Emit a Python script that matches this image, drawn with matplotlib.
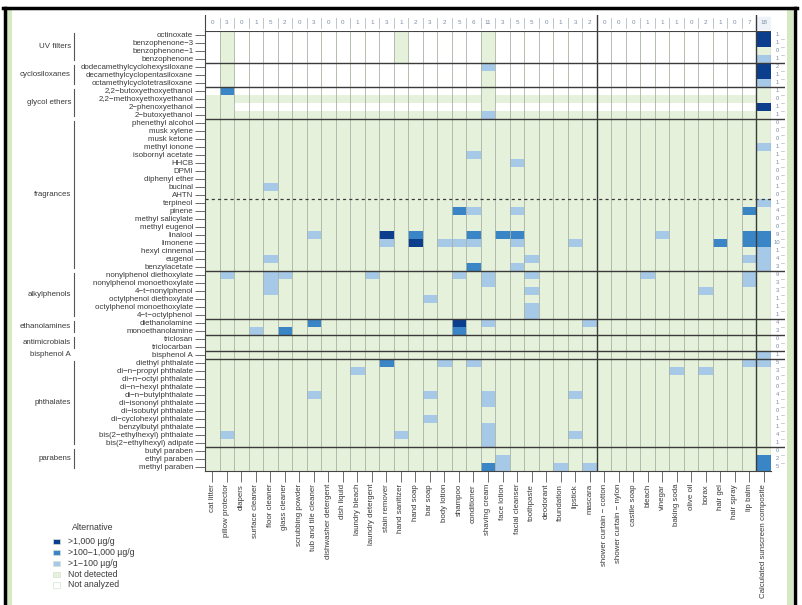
import numpy as np
import matplotlib.pyplot as plt
import matplotlib.transforms as mtransforms
from matplotlib.colors import ListedColormap
from matplotlib.patches import Rectangle

plt.rcParams['font.family'] = ['Liberation Sans', 'DejaVu Sans']

products = ["cat litter", "pillow protector", "diapers", "surface cleaner", "floor cleaner",
            "glass cleaner", "scrubbing powder", "tub and tile cleaner", "dishwasher detergent",
            "dish liquid", "laundry bleach", "laundry detergent", "stain remover", "hand sanitizer",
            "hand soap", "bar soap", "body lotion", "shampoo", "conditioner", "shaving cream",
            "face lotion", "facial cleanser", "toothpaste", "deodorant", "foundation", "lipstick",
            "mascara", "shower curtain \u2212 cotton", "shower curtain \u2212 nylon", "castile soap",
            "bleach", "vinegar", "baking soda", "olive oil", "borax", "hair gel", "hair spray",
            "lip balm", "Calculated sunscreen composite"]

chemicals = ["octinoxate", "benzophenone\u22123", "benzophenone\u22121", "benzophenone",
             "dodecamethylcyclohexysiloxane", "decamethylcyclopentasiloxane",
             "octamethylcyclotetrasiloxane",
             "2,2\u2212butoxyethoxyethanol", "2,2\u2212methoxyethoxyethanol",
             "2\u2212phenoxyethanol", "2\u2212butoxyethanol",
             "phenethyl alcohol", "musk xylene", "musk ketone", "methyl ionone",
             "isobornyl acetate", "HHCB", "DPMI", "diphenyl ether", "bucinal", "AHTN",
             "terpineol", "pinene", "methyl salicylate", "methyl eugenol", "linalool",
             "limonene", "hexyl cinnemal", "eugenol", "benzylacetate",
             "nonylphenol diethoxylate", "nonylphenol monoethoxylate", "4\u2212t\u2212nonylphenol",
             "octylphenol diethoxylate", "octylphenol monoethoxylate", "4\u2212t\u2212octylphenol",
             "diethanolamine", "monoethanolamine", "triclosan", "triclocarban", "bisphenol A",
             "diethyl phthalate", "di\u2212n\u2212propyl phthalate", "di\u2212n\u2212octyl phthalate",
             "di\u2212n\u2212hexyl phthalate", "di\u2212n\u2212butylphthalate",
             "di\u2212isononyl phthalate", "di\u2212isobutyl phthalate",
             "di\u2212cyclohexyl phthalate", "benzylbutyl phthalate",
             "bis(2\u2212ethylhexyl) phthalate", "bis(2\u2212ethylhexyl) adipate",
             "butyl paraben", "ethyl paraben", "methyl paraben"]

groups = ["UV filters", "cyclosiloxanes", "glycol ethers", "fragrances", "alkylphenols",
          "ethanolamines", "antimicrobials", "bisphenol A", "phthalates", "parabens"]
group_sizes = [4, 3, 4, 19, 6, 2, 2, 1, 11, 3]

# '.' not analyzed, '-' not detected, L >1-100, M >100-1,000, H >1,000 ug/g
# blocks: products 0-9 | 10-19 | 20-29 | 30-38
levels = [
    ".-........ ...-.....- .......... ........H",   # octinoxate
    ".-........ ...-.....- .......... ........H",
    ".-........ ...-.....- .......... ........-",
    ".-........ ...-.....- .......... ........L",
    ".-........ .........L .......... ........H",   # cyclosiloxanes
    ".-........ .........- .......... ........H",
    ".-........ .........- .......... ........L",
    ".M........ .........- .......... ........-",   # glycol ethers
    "---------- ---------- ---------- ---------",
    "--........ .........- .......... ........H",
    "---------- ---------L ---------- ---------",
    "---------- ---------- ---------- ---------",   # phenethyl alcohol
    "---------- ---------- ---------- ---------",
    "---------- ---------- ---------- ---------",
    "---------- ---------- ---------- --------L",
    "---------- --------L- ---------- ---------",
    "---------- ---------- -L-------- ---------",
    "---------- ---------- ---------- ---------",
    "---------- ---------- ---------- ---------",
    "----L----- ---------- ---------- ---------",
    "---------- ---------- ---------- ---------",   # AHTN
    "---------- ---------- ---------- --------L",   # terpineol
    "---------- -------ML- -L-------- -------M-",
    "---------- ---------- ---------- ---------",
    "---------- ---------- ---------- ---------",
    "-------L-- --H-M---M- MM-------- -L-----MM",   # linalool
    "---------- --L-H-LLL- -L---L---- -----M-MM",   # limonene
    "---------- ---------- ---------- --------L",
    "----L----- ---------- --L------- -------LL",
    "---------- --------M- -L-------- --------L",
    "-L--LL---- -L-----L-L --L------- L------L-",   # nonylphenol diethoxylate
    "----L----- ---------L ---------- -------L-",
    "----L----- ---------- --L------- ----L----",
    "---------- -----L---- ---------- ---------",
    "---------- ---------- --L------- ---------",
    "---------- ---------- --L------- ---------",
    "-------M-- -------H-L ------L--- ---------",   # diethanolamine
    "---L-M---- -------M-- ---------- ---------",
    "---------- ---------- ---------- ---------",   # triclosan
    "---------- ---------- ---------- ---------",
    "---------- ---------- ---------- --------L",   # bisphenol A
    "---------- --M---L-L- ---------- -------LL",   # diethyl phthalate
    "---------- L--------- ---------- --L-L----",
    "---------- ---------- ---------- ---------",
    "---------- ---------- ---------- ---------",
    "-------L-- -----L---L -----L---- ---------",
    "---------- ---------L ---------- ---------",
    "---------- ---------- ---------- ---------",
    "---------- -----L---- ---------- ---------",
    "---------- ---------L ---------- ---------",
    "-L-------- ---L-----L -----L---- ---------",
    "---------- ---------L ---------- ---------",
    "---------- ---------- ---------- ---------",   # butyl paraben
    "---------- ---------- L--------- --------M",
    "---------- ---------M L---L-L--- --------M",
]

legend_labels = [">1,000 \u00b5g/g", ">100\u22121,000 \u00b5g/g", ">1\u2212100 \u00b5g/g",
                 "Not detected", "Not analyzed"]

code = {'.': 0, '-': 1, 'L': 2, 'M': 3, 'H': 4}
grid = np.array([[code[c] for c in row.replace(" ", "")] for row in levels])
n_rows, n_cols = grid.shape
detected = grid >= 2
col_counts = detected.sum(axis=0)
row_counts = detected.sum(axis=1)

colors = ['#ffffff', '#e6f1dc', '#a5c9e6', '#3a85c6', '#0c3e8e']
cmap = ListedColormap(colors)

W, H = 803, 605
fig = plt.figure(figsize=(W / 100, H / 100), dpi=100)


def fx(px):
    return px / W


def fy(py):
    return 1 - py / H


gx0, gx1, gy0, gy1 = 205, 771, 30.7, 470.7
ax = fig.add_axes([fx(gx0), fy(gy1), (gx1 - gx0) / W, (gy1 - gy0) / H])
ax.pcolormesh(np.arange(n_cols + 1), np.arange(n_rows + 1), grid, cmap=cmap,
              vmin=-0.5, vmax=4.5)
ax.set_xlim(0, n_cols)
ax.set_ylim(n_rows, 0)

text_c = '#3a3a3a'
ax.set_yticks(np.arange(n_rows) + 0.5, chemicals, fontsize=5.7, color=text_c)
ax.set_xticks(np.arange(n_cols) + 0.5, products, rotation=90, fontsize=5.7, color=text_c)
ax.tick_params(axis='y', length=7, width=0.6, color='#555555', pad=1.5)
ax.tick_params(axis='x', length=8, width=0.6, color='#555555', pad=1.5)
for s in ax.spines.values():
    s.set_color('#444444')
    s.set_linewidth(0.8)

# column and group separators
thick_cols = [27, 38]
for k in range(1, n_cols):
    if k in thick_cols:
        ax.axvline(k, color='#3a3a3a', lw=1.0)
    else:
        ax.axvline(k, color='#a9b2a3', lw=0.6)
bounds = np.cumsum(group_sizes)[:-1]
for b in bounds:
    ax.axhline(b, color='#3a3a3a', lw=1.0)
ax.axhline(21, color='#3a3a3a', lw=0.9, ls=(0, (2.5, 2.5)))

# header with product counts
hx = fig.add_axes([fx(gx0), fy(gy0), (gx1 - gx0) / W, (gy0 - 15) / H])
hx.set_xlim(0, n_cols)
hx.set_ylim(0, 1)
hx.set_xticks([])
hx.set_yticks([])
for name, s in hx.spines.items():
    s.set_visible(name == 'left')
    s.set_color('#444444')
    s.set_linewidth(0.8)
for k in range(1, n_cols):
    if k in thick_cols:
        hx.axvline(k, color='#3a3a3a', lw=1.0)
    else:
        hx.axvline(k, ymin=0.2, ymax=0.8, color='#b5bcc5', lw=0.6)
for i, c in enumerate(col_counts):
    hx.text(i + 0.5, 0.5, str(c), ha='center', va='center', fontsize=4.5, color='#7d8ca3')
hx.axvspan(38, 39, ymin=0.1, ymax=0.9, color='#eef3fa', zorder=0)

# right column with chemical counts
rx = fig.add_axes([fx(gx1), fy(gy1), (785 - gx1) / W, (gy1 - gy0) / H])
rx.set_xlim(0, 1)
rx.set_ylim(n_rows, 0)
rx.set_xticks([])
rx.set_yticks([])
for s in rx.spines.values():
    s.set_visible(False)
for j, c in enumerate(row_counts):
    rx.text(0.45, j + 0.5, str(c), ha='center', va='center', fontsize=4.2, color='#7d8ca3')
    rx.plot([0.75, 0.95], [j + 1, j + 1], color='#b5bcc5', lw=0.5)
for b in bounds:
    rx.axhline(b, color='#3a3a3a', lw=1.0)

# group labels with brackets
trans = mtransforms.blended_transform_factory(fig.transFigure, ax.transData)
start = 0
for g, n in zip(groups, group_sizes):
    mid = start + n / 2
    ax.text(fx(71), mid, g, transform=trans, ha='right', va='center', fontsize=5.7,
            color=text_c)
    if g != "bisphenol A":
        ax.plot([fx(74), fx(74)], [start + 0.3, start + n - 0.3], transform=trans,
                clip_on=False, color='#555555', lw=0.8)
    start += n

# legend
fig.text(fx(72), fy(527), "Alternative", fontsize=6.3, color=text_c, va='center')
legend_colors = [colors[4], colors[3], colors[2], colors[1], colors[0]]
for i, (lab, col) in enumerate(zip(legend_labels, legend_colors)):
    y = 541.7 + i * 10.8
    fig.add_artist(Rectangle((fx(53), fy(y + 2.6)), 7 / W, 5.2 / H, transform=fig.transFigure,
                             facecolor=col, edgecolor='#d8e2d0', lw=0.5))
    fig.text(fx(68), fy(y), lab, fontsize=6.3, color=text_c, va='center')

# slide frame
fig.add_artist(Rectangle((fx(7), 0), 5 / W, fy(9), transform=fig.transFigure,
                         facecolor='#d6e9c3', edgecolor='none'))
fig.add_artist(Rectangle((fx(787), 0), 6 / W, fy(9), transform=fig.transFigure,
                         facecolor='#d6e9c3', edgecolor='none'))
fig.add_artist(plt.Line2D([fx(3), fx(797)], [fy(8), fy(8)], transform=fig.transFigure,
                          color='black', lw=2.5))
fig.add_artist(plt.Line2D([fx(5), fx(5)], [fy(8), 0], transform=fig.transFigure,
                          color='black', lw=2.5))
fig.add_artist(plt.Line2D([fx(795), fx(795)], [fy(8), 0], transform=fig.transFigure,
                          color='black', lw=2.5))

fig.savefig('out.png', dpi=100)
